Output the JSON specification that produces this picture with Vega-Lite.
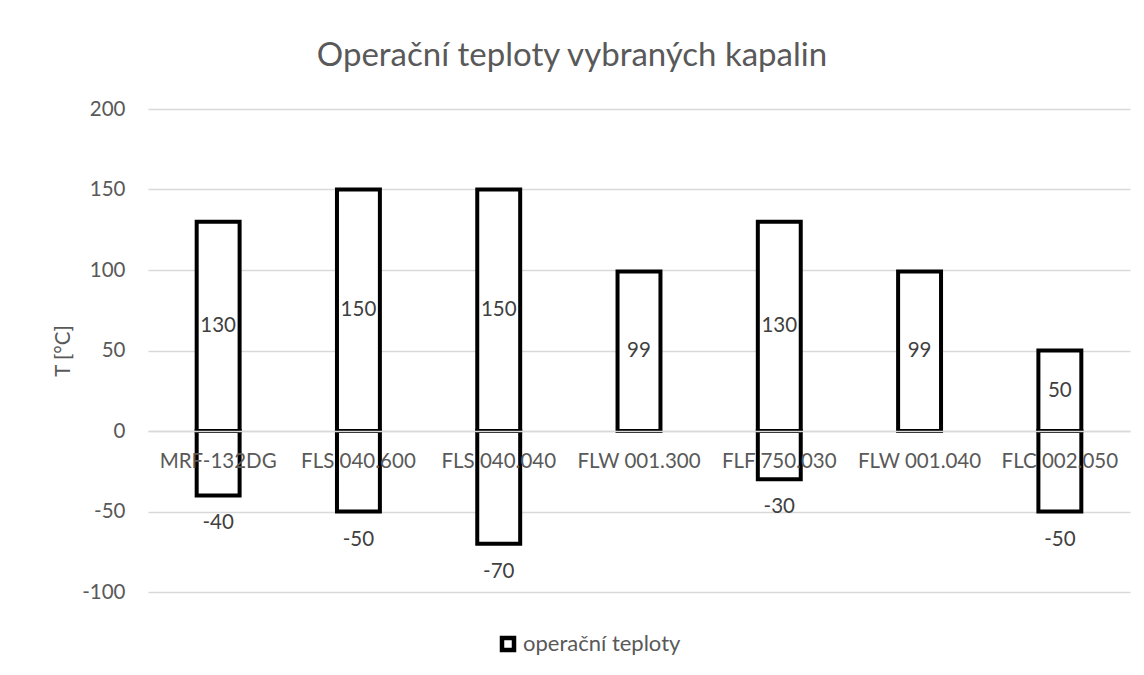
{
  "$schema": "https://vega.github.io/schema/vega-lite/v6.json",
  "autosize": {"type": "none"},
  "width": 982,
  "height": 483,
  "padding": {"left": 148, "top": 109, "right": 14, "bottom": 83},
  "background": "white",
  "config": {
    "view": {"stroke": null},
    "font": "Lato",
    "axis": {"labelFont": "Lato", "titleFont": "Lato", "labelColor": "#595959", "titleColor": "#595959"}
  },
  "title": {
    "text": "Operační teploty vybraných kapalin",
    "font": "Lato",
    "fontSize": 33,
    "fontWeight": "normal",
    "color": "#595959",
    "anchor": "middle",
    "dx": -67,
    "offset": 26
  },
  "data": {
    "values": [
      {"kapalina": "MRF-132DG", "mez": "max", "teplota": 130},
      {"kapalina": "MRF-132DG", "mez": "min", "teplota": -40},
      {"kapalina": "FLS 040.600", "mez": "max", "teplota": 150},
      {"kapalina": "FLS 040.600", "mez": "min", "teplota": -50},
      {"kapalina": "FLS 040.040", "mez": "max", "teplota": 150},
      {"kapalina": "FLS 040.040", "mez": "min", "teplota": -70},
      {"kapalina": "FLW 001.300", "mez": "max", "teplota": 99},
      {"kapalina": "FLF 750.030", "mez": "max", "teplota": 130},
      {"kapalina": "FLF 750.030", "mez": "min", "teplota": -30},
      {"kapalina": "FLW 001.040", "mez": "max", "teplota": 99},
      {"kapalina": "FLC 002.050", "mez": "max", "teplota": 50},
      {"kapalina": "FLC 002.050", "mez": "min", "teplota": -50}
    ]
  },
  "encoding": {
    "x": {
      "field": "kapalina",
      "type": "nominal",
      "sort": null,
      "scale": {"paddingInner": 0, "paddingOuter": 0},
      "axis": {
        "title": null,
        "offset": -161,
        "zindex": 1,
        "domain": true,
        "domainColor": "#d9d9d9",
        "domainWidth": 1.5,
        "ticks": false,
        "tickSize": 0,
        "grid": false,
        "labelAngle": 0,
        "labelFontSize": 20.5,
        "labelPadding": 30,
        "labelBaseline": "middle",
        "labelLimit": 300,
        "labelOverlap": false,
        "labelFlush": false
      }
    }
  },
  "layer": [
    {
      "mark": {"type": "bar", "fill": "white", "strokeWidth": 4, "width": {"band": 0.306}},
      "encoding": {
        "y": {
          "field": "teplota",
          "type": "quantitative",
          "scale": {"domain": [-100, 200], "nice": false, "zero": true},
          "axis": {
            "title": "T [°C]",
            "titleFontSize": 20.5,
            "titleFontWeight": "normal",
            "titlePadding": 8,
            "values": [-100, -50, 0, 50, 100, 150, 200],
            "labelExpr": "replace(datum.label, '−', '-')",
            "domain": false,
            "ticks": false,
            "tickSize": 0,
            "labelPadding": 23,
            "labelFontSize": 20.5,
            "gridColor": "#d9d9d9",
            "gridWidth": 1.5
          }
        },
        "stroke": {
          "datum": "operační teploty",
          "scale": {"range": ["#000000"]},
          "legend": {
            "title": null,
            "orient": "none",
            "legendX": 349,
            "legendY": 524,
            "padding": 0,
            "symbolType": "square",
            "symbolSize": 144,
            "symbolStrokeWidth": 4.5,
            "symbolFillColor": "white",
            "symbolStrokeColor": "black",
            "labelFont": "Lato",
            "labelFontSize": 22,
            "labelColor": "#595959",
            "labelOffset": 4
          }
        }
      }
    },
    {
      "transform": [
        {"filter": "datum.mez === 'max'"},
        {"calculate": "datum.teplota / 2", "as": "stred"}
      ],
      "mark": {"type": "text", "font": "Lato", "fontSize": 20.5, "color": "#404040", "baseline": "middle"},
      "encoding": {
        "y": {"field": "stred", "type": "quantitative"},
        "text": {"field": "teplota", "type": "nominal"}
      }
    },
    {
      "transform": [{"filter": "datum.mez === 'min'"}],
      "mark": {"type": "text", "font": "Lato", "fontSize": 20.5, "color": "#404040", "baseline": "middle", "dy": 28},
      "encoding": {
        "y": {"field": "teplota", "type": "quantitative"},
        "text": {"field": "teplota", "type": "nominal"}
      }
    }
  ]
}
